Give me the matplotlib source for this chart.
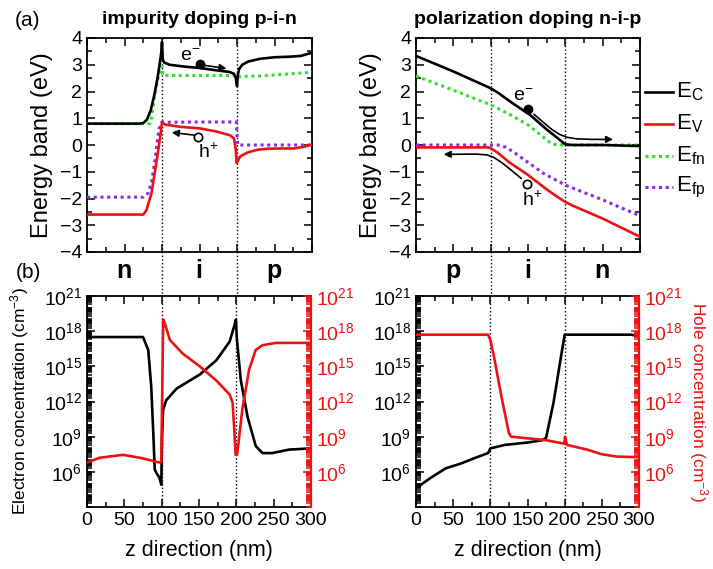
import numpy as np
import matplotlib
matplotlib.use('Agg')
import matplotlib.pyplot as plt
from matplotlib import font_manager
from matplotlib.ticker import FixedLocator, MultipleLocator, LogLocator, NullFormatter, FuncFormatter
from matplotlib.lines import Line2D
from matplotlib.patches import FancyArrowPatch
from matplotlib.path import Path

# ---------------- data ----------------
# (a) impurity doping p-i-n : band diagram
imp_ec_x = [0, 70, 75, 80, 85, 90, 94, 97, 99, 100, 101, 103, 110, 130, 150, 170, 190, 196, 198.5, 200, 201, 203, 207, 215, 230, 250, 270, 285, 300]
imp_ec_y = [0.8, 0.8, 0.82, 0.95, 1.3, 1.9, 2.5, 3.05, 3.45, 3.85, 3.2, 3.08, 3.0, 2.93, 2.88, 2.8, 2.73, 2.66, 2.5, 2.2, 2.6, 2.85, 3.0, 3.12, 3.22, 3.28, 3.3, 3.33, 3.45]

imp_ev_x = [0, 75, 79, 86, 90, 95, 98.5, 100, 102, 105, 124, 151, 173, 191, 196, 198.5, 199.5, 201, 204.6, 214, 227, 240, 260, 276, 290, 300]
imp_ev_y = [-2.6, -2.6, -2.45, -1.8, -1.1, -0.2, 0.5, 0.85, 0.8, 0.76, 0.68, 0.62, 0.5, 0.36, 0.24, -0.2, -0.67, -0.6, -0.42, -0.28, -0.18, -0.14, -0.13, -0.13, -0.06, 0.02]

imp_efn_x = [0, 84, 86, 90, 94, 97, 99, 100, 101, 150, 195, 198, 200, 202, 210, 230, 250, 270, 300]
imp_efn_y = [0.8, 0.8, 1.0, 1.8, 2.4, 2.75, 2.95, 2.95, 2.6, 2.6, 2.6, 2.55, 2.5, 2.55, 2.57, 2.58, 2.62, 2.66, 2.72]

imp_efp_x = [0, 75, 81.5, 86, 90.5, 93.6, 96, 99.5, 150, 199, 200.5, 201, 300]
imp_efp_y = [-1.95, -1.95, -1.8, -1.4, -0.6, 0.1, 0.6, 0.85, 0.86, 0.86, 0.2, 0.0, 0.0]

# (a) polarization doping n-i-p : band diagram
pol_ec_x = [0, 50, 97, 103, 110, 130, 153, 175, 190, 200, 210, 250, 300]
pol_ec_y = [3.33, 2.75, 2.16, 2.07, 1.95, 1.55, 1.12, 0.58, 0.25, 0.02, 0.0, 0.0, -0.04]

pol_ev_x = [0, 97, 100, 110, 125, 150, 175, 190, 200, 210, 250, 300]
pol_ev_y = [-0.09, -0.09, -0.12, -0.3, -0.65, -1.12, -1.66, -1.95, -2.13, -2.27, -2.75, -3.43]

pol_efn_x = [0, 50, 100, 125, 150, 165, 175, 182, 190, 250, 300]
pol_efn_y = [2.58, 2.05, 1.5, 1.15, 0.75, 0.42, 0.19, 0.04, 0.0, 0.0, 0.0]

pol_efp_x = [0, 110, 120, 130, 150, 170, 190, 200, 250, 300]
pol_efp_y = [0.0, 0.0, -0.08, -0.25, -0.65, -1.05, -1.35, -1.5, -2.05, -2.65]

# (b) impurity doping : carrier concentrations (log10 cm^-3)
imp_n_x = [0, 75, 82, 86, 89, 90.7, 93, 97, 99.5, 100.5, 102, 106, 120, 151, 173, 191, 197, 199.5, 200.5, 206, 215, 226, 235, 248, 271, 300]
imp_n_log = [17.5, 17.5, 16.4, 13.3, 9.0, 6.2, 5.9, 5.5, 4.9, 9.0, 11.3, 12.1, 13.1, 14.3, 15.5, 17.1, 18.4, 19.0, 17.5, 13.8, 10.7, 8.2, 7.6, 7.6, 7.9, 8.0]
imp_p_x = [0, 17, 48, 71, 97, 99.5, 101, 102, 104, 111, 128, 151, 173, 191, 195, 197, 199, 201, 208, 217, 226, 235, 253, 300]
imp_p_log = [6.8, 7.2, 7.45, 7.2, 6.8, 6.8, 14.0, 19.0, 18.7, 17.25, 16.1, 15.0, 13.8, 12.6, 11.9, 9.9, 7.45, 7.45, 11.3, 14.7, 16.4, 16.8, 17.0, 17.0]

# (b) polarization doping : carrier concentrations (log10 cm^-3)
pol_n_x = [0, 20, 40, 60, 80, 97, 100, 120, 150, 170, 175, 185, 195, 200, 250, 290, 300]
pol_n_log = [4.6, 5.5, 6.3, 6.7, 7.2, 7.6, 8.0, 8.3, 8.5, 8.7, 8.9, 11.9, 15.8, 17.7, 17.7, 17.7, 17.55]
pol_p_x = [0, 97, 100, 105, 115, 125, 128, 175, 199.5, 200.5, 203, 230, 250, 270, 300]
pol_p_log = [17.7, 17.7, 17.25, 15.8, 12.4, 9.3, 9.0, 8.7, 8.4, 9.0, 8.3, 7.9, 7.5, 7.3, 7.25]

# annotation positions (data coords)
imp_e_dot = (150, 3.02); imp_e_txt = (138, 3.3); imp_e_arrow = [(156, 2.98), (186, 2.86)]
imp_h_dot = (148, 0.31); imp_h_txt = (162, -0.28); imp_h_arrow = [(143, 0.37), (113, 0.47)]
pol_e_dot = (150, 1.33); pol_e_txt = (143, 1.8)
pol_e_arrow = [(158, 1.15), (170, 0.86), (182, 0.58), (192, 0.4), (202, 0.29), (215, 0.23), (235, 0.21), (264, 0.21)]
pol_h_dot = (148, -1.47); pol_h_txt = (155, -2.05)
pol_h_arrow = [(141, -1.25), (128, -0.95), (115, -0.66), (104, -0.46), (95, -0.37), (80, -0.34), (37, -0.35)]

region_x = [50, 150, 250]
imp_regions = ['n', 'i', 'p']
pol_regions = ['p', 'i', 'n']
junctions = [100, 200]
legend_labels = ['E$_\\mathrm{C}$', 'E$_\\mathrm{V}$', 'E$_\\mathrm{fn}$', 'E$_\\mathrm{fp}$']

# ---------------- style ----------------
names = {f.name for f in font_manager.fontManager.ttflist}
FONT = 'Liberation Sans Narrow' if 'Liberation Sans Narrow' in names else 'Liberation Sans'
plt.rcParams['font.family'] = [FONT, 'DejaVu Sans']
plt.rcParams['mathtext.fontset'] = 'custom'
plt.rcParams['mathtext.rm'] = FONT
plt.rcParams['mathtext.it'] = FONT
plt.rcParams['mathtext.bf'] = FONT + ':bold'

C_EC = 'black'
C_EV = '#ee1111'
C_EFN = '#2fe02f'
C_EFP = '#8a2be2'
LW = 1.9

W, H = 713, 569
fig = plt.figure(figsize=(W / 100, H / 100), dpi=100)


def rect(l, t, r, b):
    return [l / W, 1 - b / H, (r - l) / W, (b - t) / H]


ax_tl = fig.add_axes(rect(87, 38, 312, 252))
ax_tr = fig.add_axes(rect(416, 38, 640, 252))
ax_bl = fig.add_axes(rect(87, 296, 311, 507))
ax_br = fig.add_axes(rect(416, 296, 639, 507))

TICK_FS = 14


def style_top(ax):
    ax.set_xlim(0, 300)
    ax.set_ylim(-4, 4)
    ax.xaxis.set_major_locator(MultipleLocator(50))
    ax.xaxis.set_minor_locator(MultipleLocator(25))
    ax.yaxis.set_major_locator(MultipleLocator(1))
    ax.yaxis.set_minor_locator(MultipleLocator(0.5))
    ax.tick_params(which='both', direction='in', top=True, right=True, labelbottom=False,
                   labelsize=TICK_FS, width=1.1)
    ax.tick_params(which='major', length=6)
    ax.tick_params(which='minor', length=3.5)
    for s in ax.spines.values():
        s.set_linewidth(1.3)
    ax.set_ylabel('Energy band (eV)', fontsize=17)
    ax.yaxis.set_label_coords(-0.15, 0.5)
    for j in junctions:
        ax.axvline(j, ymin=-0.21, ymax=1, color='k', ls=':', lw=1.0, clip_on=False, zorder=1)


def logfmt(v, pos):
    return '$10^{%d}$' % int(round(np.log10(v)))


def style_bottom(ax):
    ax.set_xlim(0, 300)
    ax.set_yscale('log')
    ax.set_ylim(1e3, 1e21)
    ax.xaxis.set_major_locator(MultipleLocator(50))
    ax.xaxis.set_minor_locator(MultipleLocator(25))
    ax.yaxis.set_major_locator(FixedLocator([1e6, 1e9, 1e12, 1e15, 1e18, 1e21]))
    ax.yaxis.set_major_formatter(FuncFormatter(logfmt))
    ax.yaxis.set_minor_locator(LogLocator(base=10, subs=np.arange(1, 10), numticks=200))
    ax.yaxis.set_minor_formatter(NullFormatter())
    ax.tick_params(which='both', direction='in', top=True, right=False, labelsize=TICK_FS, width=1.1)
    ax.tick_params(which='major', length=6)
    ax.tick_params(which='minor', length=3.5)
    for s in ax.spines.values():
        s.set_linewidth(1.3)
    ax.spines['right'].set_visible(False)
    ax.set_xlabel('z direction (nm)', fontsize=15.5)
    ax.xaxis.set_label_coords(0.5, -0.155)
    for j in junctions:
        ax.axvline(j, color='k', ls=':', lw=1.0, zorder=1)
    tw = ax.twinx()
    tw.set_yscale('log')
    tw.set_ylim(1e3, 1e21)
    tw.yaxis.set_major_locator(FixedLocator([1e6, 1e9, 1e12, 1e15, 1e18, 1e21]))
    tw.yaxis.set_major_formatter(FuncFormatter(logfmt))
    tw.yaxis.set_minor_locator(LogLocator(base=10, subs=np.arange(1, 10), numticks=200))
    tw.yaxis.set_minor_formatter(NullFormatter())
    tw.tick_params(which='both', direction='in', colors=C_EV, labelsize=TICK_FS, width=1.1)
    tw.tick_params(which='major', length=6)
    tw.tick_params(which='minor', length=3.5)
    for k, s in tw.spines.items():
        s.set_visible(k == 'right')
    tw.spines['right'].set_color(C_EV)
    tw.spines['right'].set_linewidth(1.6)
    return tw


# ---------------- top panels ----------------
style_top(ax_tl)
style_top(ax_tr)

for ax, data in [(ax_tl, [(imp_ec_x, imp_ec_y), (imp_ev_x, imp_ev_y), (imp_efn_x, imp_efn_y), (imp_efp_x, imp_efp_y)]),
                 (ax_tr, [(pol_ec_x, pol_ec_y), (pol_ev_x, pol_ev_y), (pol_efn_x, pol_efn_y), (pol_efp_x, pol_efp_y)])]:
    (ecx, ecy), (evx, evy), (fnx, fny), (fpx, fpy) = data
    ax.plot(fnx, fny, color=C_EFN, ls=(0, (1, 1.2)), lw=2.2, zorder=3)
    ax.plot(fpx, fpy, color=C_EFP, ls=(0, (1, 1.2)), lw=2.2, zorder=3)
    ax.plot(evx, evy, color=C_EV, lw=LW, zorder=4)
    ax.plot(ecx, ecy, color=C_EC, lw=LW, zorder=4)

ax_tl.set_title('impurity doping p-i-n', fontsize=14, fontweight='bold', pad=10)
ax_tr.set_title('polarization doping n-i-p', fontsize=14, fontweight='bold', pad=10)

# annotations: impurity
ax_tl.plot(*imp_e_dot, 'o', color='k', ms=6, zorder=6)
ax_tl.text(*imp_e_txt, 'e$^{-}$', fontsize=14, ha='center', va='center', zorder=6)
ax_tl.annotate('', xy=imp_e_arrow[1], xytext=imp_e_arrow[0],
               arrowprops=dict(arrowstyle='-|>', color='k', lw=1.2, mutation_scale=10, shrinkA=0, shrinkB=0))
ax_tl.plot(*imp_h_dot, 'o', mfc='white', mec='k', mew=1.2, ms=6, zorder=6)
ax_tl.text(*imp_h_txt, 'h$^{+}$', fontsize=14, ha='center', va='center', zorder=6)
ax_tl.annotate('', xy=imp_h_arrow[1], xytext=imp_h_arrow[0],
               arrowprops=dict(arrowstyle='-|>', color='k', lw=1.2, mutation_scale=10, shrinkA=0, shrinkB=0))

# annotations: polarization
ax_tr.plot(*pol_e_dot, 'o', color='k', ms=6, zorder=6)
ax_tr.text(*pol_e_txt, 'e$^{-}$', fontsize=14, ha='center', va='center', zorder=6)
ax_tr.add_patch(FancyArrowPatch(path=Path(pol_e_arrow), arrowstyle='-|>', color='k', lw=1.2,
                                mutation_scale=10, transform=ax_tr.transData, zorder=6))
ax_tr.plot(*pol_h_dot, 'o', mfc='white', mec='k', mew=1.2, ms=6, zorder=6)
ax_tr.text(*pol_h_txt, 'h$^{+}$', fontsize=14, ha='center', va='center', zorder=6)
ax_tr.add_patch(FancyArrowPatch(path=Path(pol_h_arrow), arrowstyle='-|>', color='k', lw=1.2,
                                mutation_scale=10, transform=ax_tr.transData, zorder=6))

# legend (manual, right of top-right panel)
leg_styles = [dict(color=C_EC, lw=LW), dict(color=C_EV, lw=LW),
              dict(color=C_EFN, lw=2.2, ls=(0, (1, 1.2))), dict(color=C_EFP, lw=2.2, ls=(0, (1, 1.2)))]
for i, (lab, st) in enumerate(zip(legend_labels, leg_styles)):
    yy = 1 - (92 + 31.8 * i) / H
    fig.add_artist(Line2D([645 / W, 673 / W], [yy, yy], **st))
    fig.text(676 / W, yy, lab, fontsize=16, ha='left', va='center')

# ---------------- bottom panels ----------------
tw_l = style_bottom(ax_bl)
tw_r = style_bottom(ax_br)

ax_bl.plot(imp_n_x, np.power(10.0, imp_n_log), color=C_EC, lw=LW, zorder=4)
tw_l.plot(imp_p_x, np.power(10.0, imp_p_log), color=C_EV, lw=LW, zorder=4)
ax_br.plot(pol_n_x, np.power(10.0, pol_n_log), color=C_EC, lw=LW, zorder=4)
tw_r.plot(pol_p_x, np.power(10.0, pol_p_log), color=C_EV, lw=LW, zorder=4)

ax_bl.set_ylabel('Electron concentration (cm$^{-3}$)', fontsize=12.5)
ax_bl.yaxis.set_label_coords(-0.25, 0.5)
tw_r.set_ylabel('Hole concentration (cm$^{-3}$)', fontsize=12.5, color=C_EV, rotation=270, va='bottom')
tw_r.yaxis.set_label_coords(1.215, 0.5)

for ax, labs in [(ax_bl, imp_regions), (ax_br, pol_regions)]:
    for xx, lab in zip(region_x, labs):
        ax.text(xx, 1.12, lab, transform=ax.get_xaxis_transform(), ha='center', va='center',
                fontsize=18, fontweight='bold')

fig.text(28 / W, 1 - 20 / H, '(a)', fontsize=15, ha='center', va='center')
fig.text(28 / W, 1 - 272 / H, '(b)', fontsize=15, ha='center', va='center')

fig.savefig('out.png', dpi=100)
